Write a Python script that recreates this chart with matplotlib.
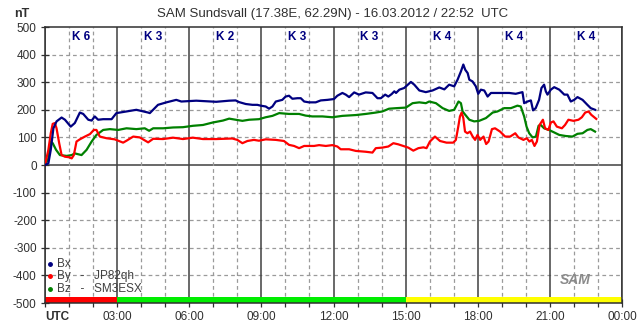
import matplotlib
matplotlib.use("Agg")
import matplotlib.pyplot as plt

plt.rcParams['font.family'] = ['Liberation Sans', 'DejaVu Sans']

# hours since 00 UTC and field values in nT
bx_t = [0, 0.14, 0.24, 0.35, 0.48, 0.69, 0.83, 1.07, 1.24, 1.45, 1.59, 1.80, 1.94, 2.07, 2.21, 2.42, 2.77, 2.97,
        3.39, 3.80, 4.29, 4.36, 4.70, 5.05, 5.46, 5.67, 6.29, 7.12, 7.66, 7.93, 8.07, 8.35, 8.63, 8.83, 8.97,
        9.18, 9.32, 9.46, 9.60, 9.87, 10.01, 10.15, 10.29, 10.50, 10.64, 10.78, 10.98, 11.26, 11.47, 11.75,
        12.02, 12.16, 12.37, 12.51, 12.65, 12.86, 13.06, 13.34, 13.62, 13.83, 13.97, 14.15, 14.28, 14.42,
        14.53, 14.60, 14.74, 14.94, 15.22, 15.36, 15.57, 15.84, 16.12, 16.40, 16.61, 16.81, 17.02, 17.16,
        17.30, 17.40, 17.48, 17.58, 17.65, 17.78, 17.92, 18.02, 18.13, 18.27, 18.41, 18.55, 18.89, 19.31,
        19.58, 19.86, 19.93, 20.07, 20.21, 20.30, 20.41, 20.55, 20.65, 20.76, 20.83, 20.90, 21.04, 21.18,
        21.39, 21.60, 21.73, 21.87, 22.01, 22.15, 22.36, 22.56, 22.70, 22.88]
bx = [0, 6, 55, 133, 158, 172, 164, 139, 152, 190, 185, 164, 161, 176, 164, 166, 166, 188,
      194, 200, 190, 188, 218, 227, 236, 230, 233, 229, 233, 234, 228, 221, 218, 218, 215,
      212, 204, 212, 230, 236, 248, 251, 240, 242, 242, 230, 227, 227, 234, 236,
      239, 251, 261, 255, 246, 263, 255, 263, 261, 242, 242, 255, 248, 257,
      267, 261, 273, 279, 301, 291, 270, 264, 270, 281, 274, 291, 285, 309,
      339, 364, 345, 333, 309, 303, 285, 258, 273, 270, 248, 261, 261, 261,
      258, 264, 224, 230, 234, 198, 206, 236, 279, 291, 267, 255, 273, 282,
      273, 255, 255, 230, 236, 246, 236, 218, 206, 200]

by_t = [0, 0.14, 0.24, 0.32, 0.41, 0.48, 0.59, 0.69, 0.83, 1.01, 1.11, 1.20, 1.31, 1.45, 1.66, 1.87, 2.03,
        2.14, 2.28, 2.56, 2.90, 3.25, 3.39, 3.67, 3.94, 4.29, 4.50, 4.91, 5.33, 5.74, 6.15, 6.57, 7.12, 7.79,
        8.00, 8.21, 8.42, 8.69, 8.90, 9.18, 9.60, 9.94, 10.15, 10.36, 10.57, 10.78, 10.98, 11.19, 11.40,
        11.68, 11.95, 12.16, 12.30, 12.65, 12.93, 13.34, 13.62, 13.76, 14.03, 14.28, 14.49, 14.69, 14.90,
        15.11, 15.32, 15.53, 15.74, 15.87, 16.01, 16.22, 16.43, 16.70, 16.98, 17.09, 17.19, 17.26, 17.33,
        17.40, 17.47, 17.57, 17.68, 17.79, 17.89, 17.99, 18.10, 18.24, 18.35, 18.45, 18.59, 18.72, 18.93,
        19.14, 19.35, 19.56, 19.69, 19.90, 20.04, 20.15, 20.25, 20.36, 20.46, 20.57, 20.71, 20.80, 20.94,
        21.04, 21.15, 21.29, 21.50, 21.63, 21.77, 21.98, 22.19, 22.33, 22.47, 22.61, 22.72, 22.93]
by = [0, 55, 115, 149, 152, 133, 79, 36, 30, 28, 24, 36, 85, 93, 103, 112, 127,
      127, 103, 97, 93, 81, 88, 103, 100, 82, 95, 94, 99, 94, 99, 94, 94, 96,
      91, 79, 87, 91, 88, 93, 91, 87, 73, 69, 61, 69, 69, 69, 72,
      69, 72, 67, 57, 57, 51, 48, 45, 61, 63, 67, 79, 75, 69,
      63, 52, 61, 64, 61, 85, 103, 87, 81, 81, 91, 139, 176, 190,
      170, 121, 115, 121, 103, 91, 109, 91, 103, 76, 85, 130, 133, 121,
      103, 103, 115, 100, 91, 97, 85, 91, 69, 85, 145, 164, 133, 127,
      154, 158, 139, 133, 145, 164, 160, 164, 173, 190, 194, 182, 167]

bz_t = [0, 0.14, 0.24, 0.32, 0.46, 0.62, 0.90, 1.11, 1.24, 1.52, 1.73, 1.94, 2.14, 2.42, 2.70, 3.04, 3.39,
        3.80, 4.15, 4.33, 4.50, 4.91, 5.33, 5.74, 6.15, 6.57, 6.98, 7.40, 7.66, 7.93, 8.21, 8.49, 8.90, 9.18,
        9.46, 9.74, 10.15, 10.57, 10.84, 11.12, 11.54, 11.95, 12.37, 12.93, 13.34, 13.76, 14.03, 14.31,
        14.62, 15.01, 15.29, 15.57, 15.84, 15.98, 16.26, 16.54, 16.81, 17.02, 17.20, 17.30, 17.37, 17.48,
        17.65, 17.85, 18.06, 18.34, 18.62, 18.82, 19.10, 19.38, 19.65, 19.79, 19.93, 20.03, 20.14, 20.28,
        20.42, 20.53, 20.62, 20.76, 20.96, 21.18, 21.39, 21.66, 21.94, 22.15, 22.36, 22.56, 22.70, 22.88]
bz = [0, 24, 85, 79, 55, 36, 33, 36, 42, 36, 55, 85, 109, 127, 130, 127, 133,
      130, 133, 124, 133, 133, 136, 137, 142, 145, 154, 161, 168, 164, 160, 164, 166, 173,
      178, 188, 185, 185, 179, 176, 176, 173, 178, 181, 185, 190, 194, 204,
      206, 208, 224, 227, 224, 230, 224, 206, 196, 200, 230, 224, 194, 182,
      164, 158, 160, 170, 190, 194, 206, 206, 215, 212, 176, 139, 115, 100,
      103, 142, 145, 133, 127, 118, 109, 105, 103, 113, 115, 127, 130, 121]

k_index = [6, 3, 2, 3, 3, 4, 4, 4]
time_labels = ["03:00", "06:00", "09:00", "12:00", "15:00", "18:00", "21:00", "00:00"]
title = "SAM Sundsvall (17.38E, 62.29N) - 16.03.2012 / 22:52  UTC"


def k_color(k):
    if k >= 5:
        return "#ff0000"
    if k >= 4:
        return "#ffff00"
    return "#00ee00"


fig = plt.figure(figsize=(6.43, 3.31), dpi=100)
ax = fig.add_axes([45 / 643, 28 / 331, 577 / 643, 276 / 331])
ax.set_xlim(0, 24)
ax.set_ylim(-500, 500)

grid_c = "#9a9a9a"
dash = (0, (3, 2.5))
for v in range(-400, 500, 100):
    if v == 0:
        ax.axhline(v, color="#404040", lw=1.1, zorder=1)
    else:
        ax.axhline(v, color=grid_c, lw=0.9, ls=dash, zorder=1)
for h in range(25):
    if h % 3 == 0:
        ax.axvline(h, color="#404040", lw=1.1, zorder=1)
    else:
        ax.axvline(h, color=grid_c, lw=0.9, ls=dash, zorder=1)

# K-index bar along the bottom
for i, k in enumerate(k_index):
    ax.bar(3 * i, 22, bottom=-500, width=3, align="edge", color=k_color(k), zorder=2, lw=0)
    ax.text(3 * i + 1.5, 465, "K %d" % k, color="#000080", fontsize=8.5, fontweight="bold",
            ha="center", va="center", zorder=4)

ax.plot(bz_t, bz, color="#008000", lw=1.6, zorder=3)
ax.plot(by_t, by, color="#ff0000", lw=1.6, zorder=3)
ax.plot(bx_t, bx, color="#000080", lw=1.6, zorder=3)

# legend
leg = [("Bx", "#000080", -359), ("By   -   JP82qh", "#ff0000", -403), ("Bz   -   SM3ESX", "#008000", -449)]
for lab, c, yv in leg:
    ax.plot([0.22], [yv], marker="o", ms=2.5, color=c, zorder=4)
    ax.text(0.48, yv, lab, fontsize=8.5, color="#404040", va="center", zorder=4)

ax.text(22.05, -415, "SAM", fontsize=10, fontstyle="italic", fontweight="bold",
        color="#8a8a8a", ha="center", va="center", zorder=4)

ax.set_yticks(range(-500, 501, 100))
ax.set_yticklabels([str(v) for v in range(-500, 501, 100)])
ax.set_xticks(range(25))
ax.set_xticklabels(["" if (h % 3 or h == 0) else time_labels[h // 3 - 1] for h in range(25)])
ax.tick_params(direction="inout", length=6, width=0.9, color="#303030", labelsize=8.5,
               labelcolor="#303030", pad=3)
for s in ax.spines.values():
    s.set_color("#303030")
    s.set_linewidth(1.1)

ax.text(0, -530, "UTC", transform=ax.transData, fontsize=8.5, fontweight="bold",
        color="#303030", ha="left", va="top")
fig.text(333 / 643, 1 - 14 / 331, title, fontsize=9.5, color="#303030", ha="center", va="center")
fig.text(22 / 643, 1 - 14 / 331, "nT", fontsize=9, color="#303030", ha="center", va="center",
         fontweight="bold")

fig.savefig("out.png", dpi=100, facecolor="white")
